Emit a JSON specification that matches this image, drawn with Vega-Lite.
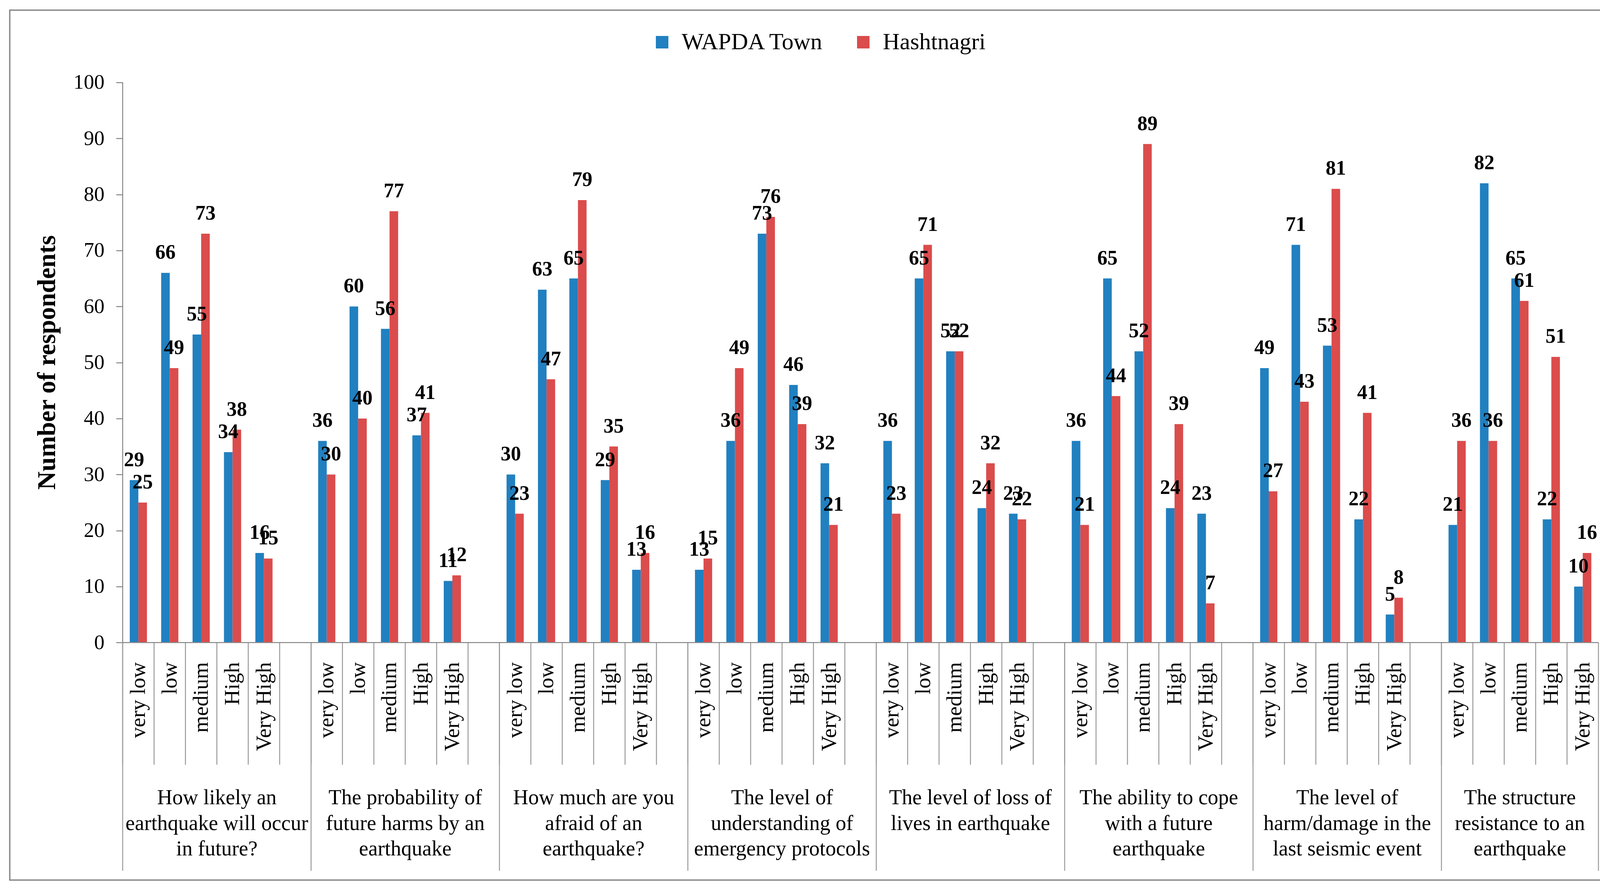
{
  "$schema": "https://vega.github.io/schema/vega-lite/v6.json",
  "width": 4116,
  "height": 2226,
  "autosize": "none",
  "padding": {"left": 25, "top": 26, "right": 23, "bottom": 28},
  "background": "white",
  "config": {
    "view": {"stroke": "#898989", "strokeWidth": 3.5, "fill": "white"},
    "font": "Liberation Serif"
  },
  "datasets": {
    "bars": [
      {"slot": "1|very low", "site": "WAPDA Town", "value": 29}, {"slot": "1|very low", "site": "Hashtnagri", "value": 25},
      {"slot": "1|low", "site": "WAPDA Town", "value": 66}, {"slot": "1|low", "site": "Hashtnagri", "value": 49},
      {"slot": "1|medium", "site": "WAPDA Town", "value": 55}, {"slot": "1|medium", "site": "Hashtnagri", "value": 73},
      {"slot": "1|High", "site": "WAPDA Town", "value": 34}, {"slot": "1|High", "site": "Hashtnagri", "value": 38},
      {"slot": "1|Very High", "site": "WAPDA Town", "value": 16}, {"slot": "1|Very High", "site": "Hashtnagri", "value": 15},
      {"slot": "2|very low", "site": "WAPDA Town", "value": 36}, {"slot": "2|very low", "site": "Hashtnagri", "value": 30},
      {"slot": "2|low", "site": "WAPDA Town", "value": 60}, {"slot": "2|low", "site": "Hashtnagri", "value": 40},
      {"slot": "2|medium", "site": "WAPDA Town", "value": 56}, {"slot": "2|medium", "site": "Hashtnagri", "value": 77},
      {"slot": "2|High", "site": "WAPDA Town", "value": 37}, {"slot": "2|High", "site": "Hashtnagri", "value": 41},
      {"slot": "2|Very High", "site": "WAPDA Town", "value": 11}, {"slot": "2|Very High", "site": "Hashtnagri", "value": 12},
      {"slot": "3|very low", "site": "WAPDA Town", "value": 30}, {"slot": "3|very low", "site": "Hashtnagri", "value": 23},
      {"slot": "3|low", "site": "WAPDA Town", "value": 63}, {"slot": "3|low", "site": "Hashtnagri", "value": 47},
      {"slot": "3|medium", "site": "WAPDA Town", "value": 65}, {"slot": "3|medium", "site": "Hashtnagri", "value": 79},
      {"slot": "3|High", "site": "WAPDA Town", "value": 29}, {"slot": "3|High", "site": "Hashtnagri", "value": 35},
      {"slot": "3|Very High", "site": "WAPDA Town", "value": 13}, {"slot": "3|Very High", "site": "Hashtnagri", "value": 16},
      {"slot": "4|very low", "site": "WAPDA Town", "value": 13}, {"slot": "4|very low", "site": "Hashtnagri", "value": 15},
      {"slot": "4|low", "site": "WAPDA Town", "value": 36}, {"slot": "4|low", "site": "Hashtnagri", "value": 49},
      {"slot": "4|medium", "site": "WAPDA Town", "value": 73}, {"slot": "4|medium", "site": "Hashtnagri", "value": 76},
      {"slot": "4|High", "site": "WAPDA Town", "value": 46}, {"slot": "4|High", "site": "Hashtnagri", "value": 39},
      {"slot": "4|Very High", "site": "WAPDA Town", "value": 32}, {"slot": "4|Very High", "site": "Hashtnagri", "value": 21},
      {"slot": "5|very low", "site": "WAPDA Town", "value": 36}, {"slot": "5|very low", "site": "Hashtnagri", "value": 23},
      {"slot": "5|low", "site": "WAPDA Town", "value": 65}, {"slot": "5|low", "site": "Hashtnagri", "value": 71},
      {"slot": "5|medium", "site": "WAPDA Town", "value": 52}, {"slot": "5|medium", "site": "Hashtnagri", "value": 52},
      {"slot": "5|High", "site": "WAPDA Town", "value": 24}, {"slot": "5|High", "site": "Hashtnagri", "value": 32},
      {"slot": "5|Very High", "site": "WAPDA Town", "value": 23}, {"slot": "5|Very High", "site": "Hashtnagri", "value": 22},
      {"slot": "6|very low", "site": "WAPDA Town", "value": 36}, {"slot": "6|very low", "site": "Hashtnagri", "value": 21},
      {"slot": "6|low", "site": "WAPDA Town", "value": 65}, {"slot": "6|low", "site": "Hashtnagri", "value": 44},
      {"slot": "6|medium", "site": "WAPDA Town", "value": 52}, {"slot": "6|medium", "site": "Hashtnagri", "value": 89},
      {"slot": "6|High", "site": "WAPDA Town", "value": 24}, {"slot": "6|High", "site": "Hashtnagri", "value": 39},
      {"slot": "6|Very High", "site": "WAPDA Town", "value": 23}, {"slot": "6|Very High", "site": "Hashtnagri", "value": 7},
      {"slot": "7|very low", "site": "WAPDA Town", "value": 49}, {"slot": "7|very low", "site": "Hashtnagri", "value": 27},
      {"slot": "7|low", "site": "WAPDA Town", "value": 71}, {"slot": "7|low", "site": "Hashtnagri", "value": 43},
      {"slot": "7|medium", "site": "WAPDA Town", "value": 53}, {"slot": "7|medium", "site": "Hashtnagri", "value": 81},
      {"slot": "7|High", "site": "WAPDA Town", "value": 22}, {"slot": "7|High", "site": "Hashtnagri", "value": 41},
      {"slot": "7|Very High", "site": "WAPDA Town", "value": 5}, {"slot": "7|Very High", "site": "Hashtnagri", "value": 8},
      {"slot": "8|very low", "site": "WAPDA Town", "value": 21}, {"slot": "8|very low", "site": "Hashtnagri", "value": 36},
      {"slot": "8|low", "site": "WAPDA Town", "value": 82}, {"slot": "8|low", "site": "Hashtnagri", "value": 36},
      {"slot": "8|medium", "site": "WAPDA Town", "value": 65}, {"slot": "8|medium", "site": "Hashtnagri", "value": 61},
      {"slot": "8|High", "site": "WAPDA Town", "value": 22}, {"slot": "8|High", "site": "Hashtnagri", "value": 51},
      {"slot": "8|Very High", "site": "WAPDA Town", "value": 10}, {"slot": "8|Very High", "site": "Hashtnagri", "value": 16}
    ],
    "slots": [
      {"slot": "1|very low", "level": "very low"}, {"slot": "1|low", "level": "low"}, {"slot": "1|medium", "level": "medium"}, {"slot": "1|High", "level": "High"}, {"slot": "1|Very High", "level": "Very High"}, {"slot": "1|gap", "level": ""},
      {"slot": "2|very low", "level": "very low"}, {"slot": "2|low", "level": "low"}, {"slot": "2|medium", "level": "medium"}, {"slot": "2|High", "level": "High"}, {"slot": "2|Very High", "level": "Very High"}, {"slot": "2|gap", "level": ""},
      {"slot": "3|very low", "level": "very low"}, {"slot": "3|low", "level": "low"}, {"slot": "3|medium", "level": "medium"}, {"slot": "3|High", "level": "High"}, {"slot": "3|Very High", "level": "Very High"}, {"slot": "3|gap", "level": ""},
      {"slot": "4|very low", "level": "very low"}, {"slot": "4|low", "level": "low"}, {"slot": "4|medium", "level": "medium"}, {"slot": "4|High", "level": "High"}, {"slot": "4|Very High", "level": "Very High"}, {"slot": "4|gap", "level": ""},
      {"slot": "5|very low", "level": "very low"}, {"slot": "5|low", "level": "low"}, {"slot": "5|medium", "level": "medium"}, {"slot": "5|High", "level": "High"}, {"slot": "5|Very High", "level": "Very High"}, {"slot": "5|gap", "level": ""},
      {"slot": "6|very low", "level": "very low"}, {"slot": "6|low", "level": "low"}, {"slot": "6|medium", "level": "medium"}, {"slot": "6|High", "level": "High"}, {"slot": "6|Very High", "level": "Very High"}, {"slot": "6|gap", "level": ""},
      {"slot": "7|very low", "level": "very low"}, {"slot": "7|low", "level": "low"}, {"slot": "7|medium", "level": "medium"}, {"slot": "7|High", "level": "High"}, {"slot": "7|Very High", "level": "Very High"}, {"slot": "7|gap", "level": ""},
      {"slot": "8|very low", "level": "very low"}, {"slot": "8|low", "level": "low"}, {"slot": "8|medium", "level": "medium"}, {"slot": "8|High", "level": "High"}, {"slot": "8|Very High", "level": "Very High"}
    ],
    "groups": [
      {"name": "How likely an\nearthquake will occur\nin future?", "start": "1|very low", "mid": "1|High", "wide": true},
      {"name": "The probability of\nfuture harms by an\nearthquake", "start": "2|very low", "mid": "2|High", "wide": true},
      {"name": "How much are you\nafraid of an\nearthquake?", "start": "3|very low", "mid": "3|High", "wide": true},
      {"name": "The level of\nunderstanding of\nemergency protocols", "start": "4|very low", "mid": "4|High", "wide": true},
      {"name": "The level of loss of\nlives in earthquake", "start": "5|very low", "mid": "5|High", "wide": true},
      {"name": "The ability to cope\nwith a future\nearthquake", "start": "6|very low", "mid": "6|High", "wide": true},
      {"name": "The level of\nharm/damage in the\nlast seismic event", "start": "7|very low", "mid": "7|High", "wide": true},
      {"name": "The structure\nresistance to an\nearthquake", "start": "8|very low", "mid": "8|medium", "wide": false}
    ]
  },
  "layer": [
    {
      "data": {"name": "bars"},
      "mark": {"type": "bar"},
      "encoding": {
        "x": {
          "field": "slot",
          "type": "nominal",
          "scale": {
            "domain": [
              "1|very low", "1|low", "1|medium", "1|High", "1|Very High", "1|gap",
              "2|very low", "2|low", "2|medium", "2|High", "2|Very High", "2|gap",
              "3|very low", "3|low", "3|medium", "3|High", "3|Very High", "3|gap",
              "4|very low", "4|low", "4|medium", "4|High", "4|Very High", "4|gap",
              "5|very low", "5|low", "5|medium", "5|High", "5|Very High", "5|gap",
              "6|very low", "6|low", "6|medium", "6|High", "6|Very High", "6|gap",
              "7|very low", "7|low", "7|medium", "7|High", "7|Very High", "7|gap",
              "8|very low", "8|low", "8|medium", "8|High", "8|Very High"
            ],
            "range": [289, 4067],
            "paddingInner": 0,
            "paddingOuter": 0
          },
          "axis": null
        },
        "xOffset": {
          "field": "site",
          "type": "nominal",
          "scale": {"domain": ["WAPDA Town", "Hashtnagri"], "paddingInner": 0, "paddingOuter": 0.827}
        },
        "y": {
          "field": "value",
          "type": "quantitative",
          "scale": {"domain": [-42.4, 112.9], "nice": false, "zero": false},
          "axis": {
            "orient": "left",
            "offset": -289,
            "values": [0, 10, 20, 30, 40, 50, 60, 70, 80, 90, 100],
            "domain": false,
            "grid": false,
            "tickSize": 17,
            "tickColor": "#868686",
            "tickWidth": 2.5,
            "labelFontSize": 53,
            "labelFont": "Liberation Serif",
            "labelColor": "black",
            "labelPadding": 30,
            "title": "Number of respondents",
            "titleFont": "Liberation Serif",
            "titleFontSize": 65,
            "titleFontWeight": "bold",
            "titleColor": "black",
            "titleX": -194,
            "titleY": 901,
            "titleAngle": 270,
            "titleBaseline": "middle",
            "titleAlign": "center"
          }
        },
        "color": {
          "field": "site",
          "type": "nominal",
          "scale": {"domain": ["WAPDA Town", "Hashtnagri"], "range": ["#2180C0", "#DB4C4C"]},
          "legend": {
            "orient": "none",
            "legendX": 1640,
            "legendY": 52,
            "direction": "horizontal",
            "title": null,
            "symbolType": "square",
            "symbolSize": 1024,
            "symbolStrokeWidth": 0,
            "labelFontSize": 60,
            "labelFont": "Liberation Serif",
            "labelColor": "black",
            "labelOffset": 20,
            "columnPadding": 70,
            "padding": 0,
            "labelLimit": 1000
          }
        }
      }
    },
    {
      "data": {"name": "bars"},
      "mark": {"type": "text", "font": "Liberation Serif", "fontWeight": "bold", "fontSize": 52, "baseline": "alphabetic", "dy": -36, "color": "black"},
      "encoding": {
        "x": {"field": "slot", "type": "nominal"},
        "xOffset": {"field": "site", "type": "nominal"},
        "y": {"field": "value", "type": "quantitative"},
        "text": {"field": "value", "type": "quantitative"}
      }
    },
    {
      "data": {"name": "slots"},
      "mark": {"type": "rule", "color": "#9b9b9b", "strokeWidth": 2.5},
      "encoding": {
        "x": {"field": "slot", "type": "nominal", "bandPosition": 0},
        "y": {"datum": 0},
        "y2": {"datum": -21.8}
      }
    },
    {
      "data": {"name": "groups"},
      "mark": {"type": "rule", "color": "#9b9b9b", "strokeWidth": 2.5},
      "encoding": {
        "x": {"field": "start", "type": "nominal", "bandPosition": 0},
        "y": {"datum": 0},
        "y2": {"datum": -40.75}
      }
    },
    {
      "data": {"values": [{}]},
      "mark": {"type": "rule", "color": "#9b9b9b", "strokeWidth": 2.5},
      "encoding": {
        "x": {"datum": "8|Very High", "type": "nominal", "bandPosition": 1},
        "y": {"datum": 0},
        "y2": {"datum": -40.75}
      }
    },
    {
      "data": {"values": [{}]},
      "mark": {"type": "rule", "color": "#868686", "strokeWidth": 2.5},
      "encoding": {
        "x": {"datum": "1|very low", "type": "nominal", "bandPosition": 0},
        "y": {"datum": 0},
        "y2": {"datum": 100}
      }
    },
    {
      "data": {"values": [{}]},
      "mark": {"type": "rule", "color": "#868686", "strokeWidth": 2.5},
      "encoding": {
        "x": {"datum": "1|very low", "type": "nominal", "bandPosition": 0},
        "x2": {"datum": "8|Very High", "bandPosition": 1},
        "y": {"datum": 0}
      }
    },
    {
      "data": {"name": "slots"},
      "transform": [{"filter": "datum.level != ''"}],
      "mark": {"type": "text", "font": "Liberation Serif", "fontSize": 55, "angle": 270, "align": "right", "baseline": "middle", "color": "black"},
      "encoding": {
        "x": {"field": "slot", "type": "nominal", "bandPosition": 0.5},
        "y": {"datum": -3.5},
        "text": {"field": "level", "type": "nominal"}
      }
    },
    {
      "data": {"name": "groups"},
      "transform": [{"filter": "datum.wide"}],
      "mark": {"type": "text", "font": "Liberation Serif", "fontSize": 54, "lineBreak": "\n", "lineHeight": 65.5, "align": "center", "baseline": "alphabetic", "color": "black"},
      "encoding": {
        "x": {"field": "mid", "type": "nominal", "bandPosition": 0},
        "y": {"datum": -28.9},
        "text": {"field": "name", "type": "nominal"}
      }
    },
    {
      "data": {"name": "groups"},
      "transform": [{"filter": "!datum.wide"}],
      "mark": {"type": "text", "font": "Liberation Serif", "fontSize": 54, "lineBreak": "\n", "lineHeight": 65.5, "align": "center", "baseline": "alphabetic", "color": "black"},
      "encoding": {
        "x": {"field": "mid", "type": "nominal", "bandPosition": 0.5},
        "y": {"datum": -28.9},
        "text": {"field": "name", "type": "nominal"}
      }
    }
  ]
}
